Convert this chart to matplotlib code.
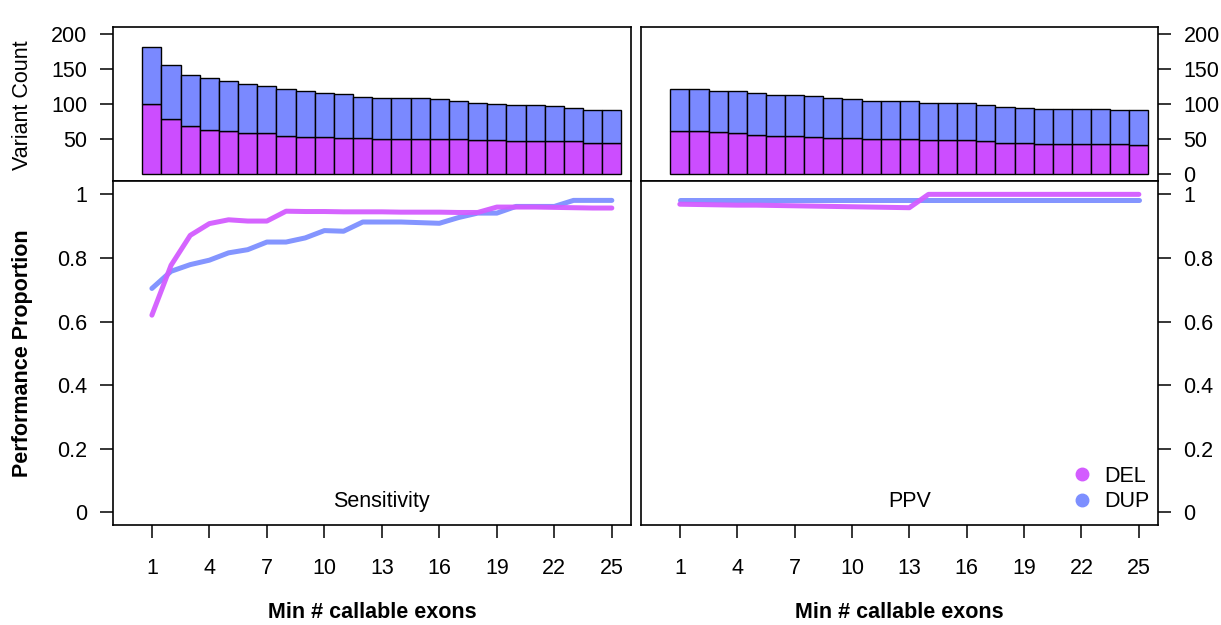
import numpy as np
import matplotlib
matplotlib.use("Agg")
import matplotlib.pyplot as plt
from matplotlib.lines import Line2D

plt.rcParams['font.family'] = ['Liberation Sans', 'DejaVu Sans']
plt.rcParams['font.size'] = 15

# x positions: minimum number of callable exons
exons = np.arange(1, 26)
xticks = [1, 4, 7, 10, 13, 16, 19, 22, 25]

# variant counts (left = sensitivity set, right = PPV set)
sens_del = [100, 79, 68, 63, 62, 58, 58, 54, 53, 53, 51, 51, 50, 50, 50, 50, 50, 49, 48, 47, 47, 47, 47, 45, 44]
sens_tot = [182, 156, 142, 137, 133, 128, 126, 122, 119, 116, 114, 110, 109, 109, 108, 107, 105, 102, 100, 98, 98, 97, 95, 92, 91]
ppv_del = [62, 62, 60, 58, 56, 54, 54, 53, 51, 51, 50, 50, 50, 48, 48, 48, 47, 45, 45, 43, 43, 43, 43, 43, 42]
ppv_tot = [122, 122, 119, 118, 116, 113, 113, 111, 108, 107, 105, 105, 105, 102, 101, 101, 99, 96, 95, 93, 93, 93, 93, 92, 91]

# performance proportions
sens_del_line = [0.620, 0.777, 0.871, 0.908, 0.920, 0.916, 0.916, 0.947, 0.946, 0.946, 0.945, 0.945,
                 0.945, 0.944, 0.944, 0.944, 0.943, 0.943, 0.960, 0.960, 0.960, 0.959, 0.958, 0.957, 0.957]
sens_dup_line = [0.704, 0.758, 0.779, 0.793, 0.816, 0.826, 0.850, 0.850, 0.863, 0.886, 0.884, 0.913,
                 0.913, 0.913, 0.911, 0.909, 0.927, 0.941, 0.941, 0.962, 0.962, 0.962, 0.981, 0.981, 0.981]
ppv_del_line = [0.969, 0.968, 0.967, 0.966, 0.966, 0.965, 0.964, 0.963, 0.962, 0.961, 0.960, 0.959,
                0.958, 1.0, 1.0, 1.0, 1.0, 1.0, 1.0, 1.0, 1.0, 1.0, 1.0, 1.0, 1.0]
ppv_dup_line = [0.981] * 25

DEL_COL = '#CC4DFF'
DUP_COL = '#7A89FF'
DEL_LINE = '#D35CFF'
DUP_LINE = '#7D8FFF'

fig = plt.figure(figsize=(12.21, 6.25), dpi=100)
W, H = 1221, 625


def box(x0, x1, y0, y1):
    return [x0 / W, 1 - y1 / H, (x1 - x0) / W, (y1 - y0) / H]


ax_tl = fig.add_axes(box(113, 631, 27, 181))
ax_bl = fig.add_axes(box(113, 631, 181, 525))
ax_tr = fig.add_axes(box(641, 1158, 27, 181))
ax_br = fig.add_axes(box(641, 1158, 181, 525))

tick_kw = dict(direction='out', length=9.4, width=1.1, labelsize=15.5, pad=9)

for ax, dels, tots, side in [(ax_tl, sens_del, sens_tot, 'left'), (ax_tr, ppv_del, ppv_tot, 'right')]:
    dups = np.array(tots) - np.array(dels)
    ax.bar(exons, dels, width=1.0, color=DEL_COL, edgecolor='black', linewidth=1.0)
    ax.bar(exons, dups, bottom=dels, width=1.0, color=DUP_COL, edgecolor='black', linewidth=1.0)
    ax.set_xlim(-1.03, 26)
    ax.set_ylim(-10, 210)
    ax.set_xticks([])
    if side == 'left':
        ax.set_yticks([50, 100, 150, 200])
        ax.tick_params(axis='y', left=True, right=False, labelleft=True, labelright=False, **tick_kw)
    else:
        ax.set_yticks([0, 50, 100, 150, 200])
        ax.tick_params(axis='y', left=False, right=True, labelleft=False, labelright=True, **tick_kw)

for ax, dl, du, side, label in [(ax_bl, sens_del_line, sens_dup_line, 'left', 'Sensitivity'),
                                (ax_br, ppv_del_line, ppv_dup_line, 'right', 'PPV')]:
    ax.plot(exons, du, color=DUP_LINE, linewidth=3.6, solid_capstyle='round', alpha=0.95)
    ax.plot(exons, dl, color=DEL_LINE, linewidth=3.6, solid_capstyle='round', alpha=0.95)
    ax.set_xlim(-1.03, 26)
    ax.set_ylim(-0.04, 1.042)
    ax.set_xticks(xticks)
    ax.set_xticklabels([str(v) for v in xticks])
    ax.tick_params(axis='x', direction='out', length=9.4, width=1.1, labelsize=15.5, pad=14)
    ax.set_yticks([0, 0.2, 0.4, 0.6, 0.8, 1])
    ax.set_yticklabels(['0', '0.2', '0.4', '0.6', '0.8', '1'])
    if side == 'left':
        ax.tick_params(axis='y', left=True, right=False, labelleft=True, labelright=False, **tick_kw)
    else:
        ax.tick_params(axis='y', left=False, right=True, labelleft=False, labelright=True, **tick_kw)
    ax.text(13, 0.035, label, ha='center', va='center', fontsize=15.5)
    ax.set_xlabel('Min # callable exons', fontweight='bold', fontsize=15.5, labelpad=17)

for ax in [ax_tl, ax_bl, ax_tr, ax_br]:
    for sp in ax.spines.values():
        sp.set_linewidth(1.2)
        sp.set_color('black')

fig.text(23 / W, 1 - 105 / H, 'Variant Count', rotation=90, ha='center', va='center', fontsize=15.5)
fig.text(23 / W, 1 - 353 / H, 'Performance Proportion', rotation=90, ha='center', va='center',
         fontsize=15.5, fontweight='bold')

handles = [Line2D([0], [0], marker='o', linestyle='none', markersize=9, color=DEL_LINE, label='DEL'),
           Line2D([0], [0], marker='o', linestyle='none', markersize=9, color=DUP_LINE, label='DUP')]
ax_br.legend(handles=handles, loc='lower right', bbox_to_anchor=(1.0, 0.012), frameon=False,
             fontsize=15.5, handlelength=1.0, handletextpad=0.55, labelspacing=0.2, borderaxespad=0.0)

fig.savefig('out.png', dpi=100)
